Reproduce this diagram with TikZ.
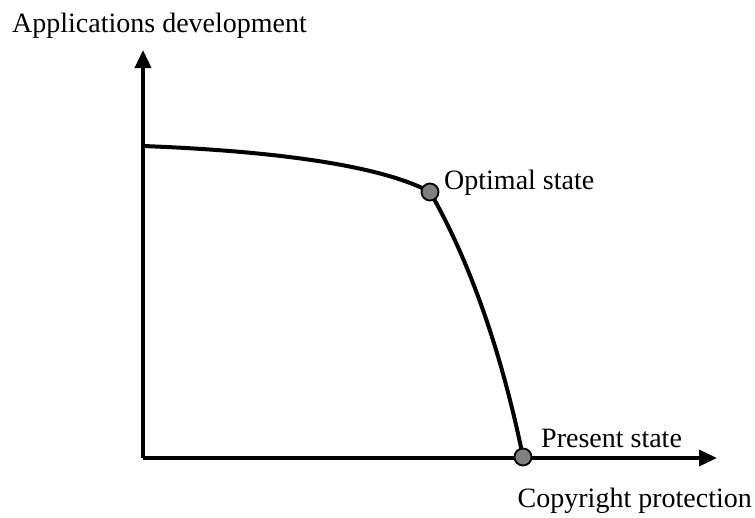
\documentclass[tikz,border=0pt]{standalone}
\usepackage{fontspec}
\setmainfont{Liberation Serif}
\usepackage{tikz}
\usetikzlibrary{arrows.meta}
\usetikzlibrary{positioning}

\begin{document}
\begin{tikzpicture}[x=1pt, y=-1pt, font=\fontsize{28}{33}\selectfont,
        axis/.style={line width=3.5pt, -{Triangle[width=16pt,length=18pt]}},
        curve/.style={line width=4pt},
        statedot/.style={circle, draw, line width=1.8pt, fill=gray, inner sep=0pt, minimum size=17pt}]
        \useasboundingbox (0,0) rectangle (755,517);

        \coordinate (origin) at (143,458);
        \coordinate (ytip) at (143,50);
        \coordinate (xtip) at (717,458);
        \coordinate (start) at (143,146);

        \draw [axis] (origin) -- (ytip);
        \draw [axis] (origin) -- (xtip);

        \draw [curve] (start) .. controls (300,152) and (390,170) .. (430,192)
                .. controls (455,235) and (495,320) .. (523,457);

        \node [statedot] (optimal) at (430,192) {};
        \node [statedot] (present) at (523,457) {};

        \node [anchor=base west, inner sep=0pt] (ylabel) at (12,32) {Applications development};
        \node [anchor=base west, inner sep=0pt] (optlabel) at (444,189) {Optimal state};
        \node [anchor=base west, inner sep=0pt] (prelabel) at (541,447) {Present state};
        \node [anchor=base east, inner sep=0pt] (xlabel) at (752,507) {Copyright protection};
    \end{tikzpicture}
\end{document}
